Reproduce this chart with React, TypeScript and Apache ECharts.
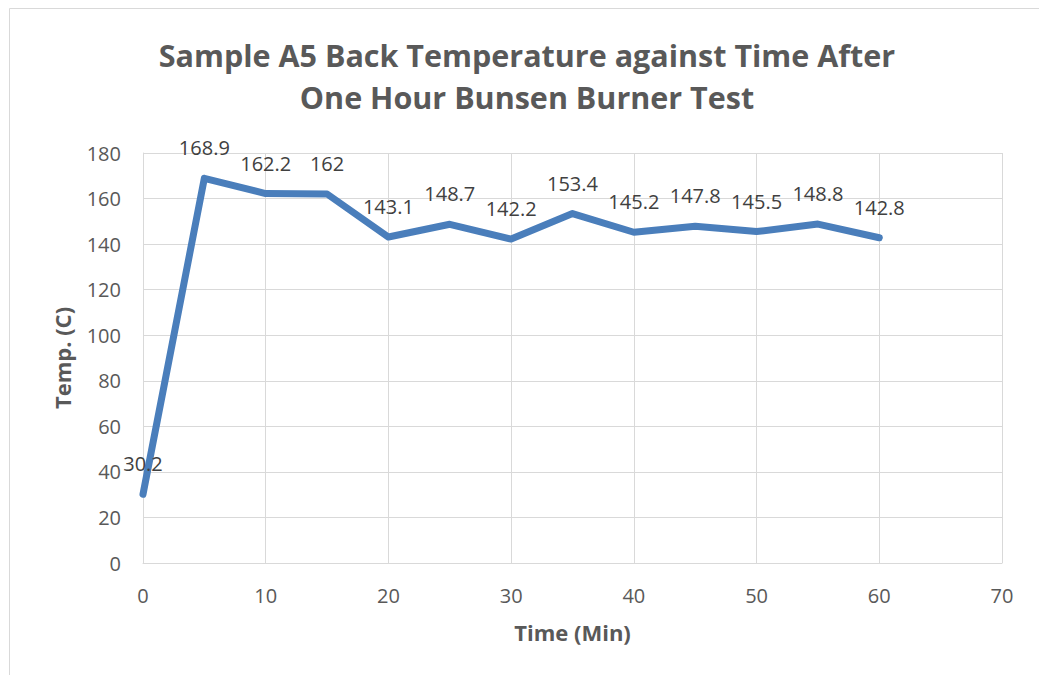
import React, { useEffect, useRef } from "react";
import * as echarts from "echarts";

const times = [0, 5, 10, 15, 20, 25, 30, 35, 40, 45, 50, 55, 60];
const temps = [30.2, 168.9, 162.2, 162, 143.1, 148.7, 142.2, 153.4, 145.2, 147.8, 145.5, 148.8, 142.8];
const titleLines = ["Sample A5 Back Temperature against Time After", "One Hour Bunsen Burner Test"];
const xName = "Time (Min)";
const yName = "Temp. (C)";

const FONT = "'Open Sans', 'Noto Sans', sans-serif";

export default function App() {
  const ref = useRef<HTMLDivElement>(null);
  useEffect(() => {
    if (!ref.current) return;
    const chart = echarts.init(ref.current, null, { renderer: "svg" });
    chart.setOption({
      animation: false,
      backgroundColor: "#ffffff",
      grid: { left: 143, right: 37, top: 153, bottom: 112 },
      graphic: [
        {
          type: "rect",
          z: -1,
          shape: { x: 9.5, y: 8.5, width: 1100, height: 1000 },
          style: { fill: "none", stroke: "#d9d9d9", lineWidth: 1 },
        },
        {
          type: "text",
          x: 527,
          y: 76,
          style: {
            text: titleLines.join("\n"),
            align: "center",
            verticalAlign: "middle",
            lineHeight: 42,
            fontFamily: FONT,
            fontWeight: "bold",
            fontSize: 30.5,
            fill: "#595959",
          },
        },
      ],
      xAxis: {
        type: "value",
        min: 0,
        max: 70,
        interval: 10,
        name: xName,
        nameLocation: "middle",
        nameGap: 58,
        nameTextStyle: { fontFamily: FONT, fontWeight: "bold", fontSize: 22, color: "#595959" },
        axisLine: { show: true, lineStyle: { color: "#d9d9d9", width: 1 } },
        axisTick: { show: false },
        axisLabel: { margin: 22, fontFamily: FONT, fontSize: 20, color: "#595959" },
        splitLine: { show: true, lineStyle: { color: "#d9d9d9", width: 1 } },
      },
      yAxis: {
        type: "value",
        min: 0,
        max: 180,
        interval: 20,
        name: yName,
        nameLocation: "middle",
        nameGap: 70,
        nameRotate: 90,
        nameTextStyle: { fontFamily: FONT, fontWeight: "bold", fontSize: 22, color: "#595959" },
        axisLine: { show: true, lineStyle: { color: "#d9d9d9", width: 1 } },
        axisTick: { show: false },
        axisLabel: { margin: 22, fontFamily: FONT, fontSize: 20, color: "#595959" },
        splitLine: { show: true, lineStyle: { color: "#d9d9d9", width: 1 } },
      },
      series: [
        {
          type: "line",
          data: times.map((t, i) => [t, temps[i]]),
          symbol: "circle",
          symbolSize: 1,
          showSymbol: true,
          itemStyle: { color: "rgba(0,0,0,0)" },
          lineStyle: { color: "#4a7ebb", width: 7, cap: "round", join: "round" },
          label: {
            show: true,
            position: "top",
            distance: 20,
            fontFamily: FONT,
            fontSize: 20,
            color: "#404040",
            formatter: (p: any) => String(p.value[1]),
          },
        },
      ],
    });
    return () => chart.dispose();
  }, []);
  return <div ref={ref} style={{ position: "absolute", left: 0, top: 0, width: 1039, height: 675 }} />;
}
